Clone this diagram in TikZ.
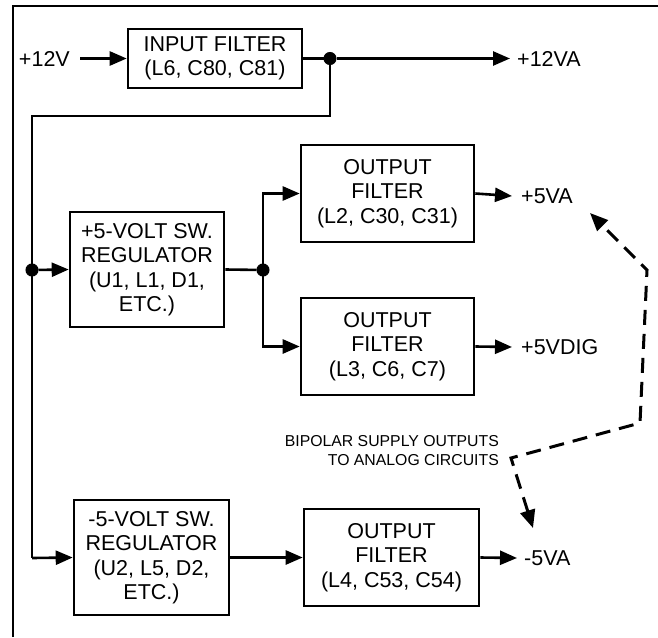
\documentclass[tikz,border=0pt]{standalone}
\usepackage{fontspec}
\setmainfont{Liberation Sans}
\usetikzlibrary{arrows.meta}
\begin{document}
\begin{tikzpicture}[x=1pt,y=-1pt,
  every node/.style={font=\fontsize{21.5}{24.5}\selectfont},
  blk/.style={draw,line width=2.6pt,align=center,inner sep=0pt},
  lbl/.style={inner sep=0pt},
  wire/.style={line width=2.6pt},
  arr/.style={line width=2.6pt,-{Triangle[length=17pt,width=14pt]}},
  junction/.style={circle,fill,draw,line width=1pt,inner sep=0pt,minimum size=12pt},
  dash arr/.style={line width=3pt,dash pattern=on 15pt off 9pt,{Triangle[length=18pt,width=15pt]}-{Triangle[length=18pt,width=15pt]}},
  small/.style={font=\fontsize{15.8}{19}\selectfont,align=right,inner sep=0pt}]
\useasboundingbox (0,0) rectangle (658,637);
% frame (top and left only)
\draw[line width=2.6pt] (13,637) -- (13,6) -- (658,6);

% blocks
\node[blk,minimum width=174pt,minimum height=59pt] (inf) at (215,58.5) {INPUT FILTER\\(L6, C80, C81)};
\node[blk,minimum width=154pt,minimum height=115pt] (reg5) at (147,269.5) {+5-VOLT SW.\\REGULATOR\\(U1, L1, D1,\\ETC.)};
\node[blk,minimum width=173pt,minimum height=97pt] (of1) at (387.5,193.5) {OUTPUT\\FILTER\\(L2, C30, C31)};
\node[blk,minimum width=173pt,minimum height=97pt] (of2) at (387.5,346.5) {OUTPUT\\FILTER\\(L3, C6, C7)};
\node[blk,minimum width=155pt,minimum height=115pt] (regm) at (151.5,557.5) {-5-VOLT SW.\\REGULATOR\\(U2, L5, D2,\\ETC.)};
\node[blk,minimum width=175pt,minimum height=97pt] (of3) at (391.5,557.5) {OUTPUT\\FILTER\\(L4, C53, C54)};

% labels
\node[lbl,anchor=east] (in12) at (70,58.5) {+12V};
\node[lbl,anchor=west] (o12) at (517,58.5) {+12VA};
\node[lbl,anchor=west] (o5a) at (521,196) {+5VA};
\node[lbl,anchor=west] (o5d) at (521,347) {+5VDIG};
\node[lbl,anchor=west] (om5) at (524,558) {-5VA};
\node[small,anchor=east] (bip) at (499,451) {BIPOLAR SUPPLY OUTPUTS\\TO ANALOG CIRCUITS};

% junctions
\node[junction] (j1) at (330,58.5) {};
\node[junction] (j2) at (32,270) {};
\node[junction] (j3) at (263,270) {};
\coordinate (c1) at (330,116);
\coordinate (c2) at (32,116);
\coordinate (c3) at (32,558);

% wires
\draw[arr] (80,58.5) -- (inf.west);
\draw[wire] (inf.east) -- (j1);
\draw[arr] (j1) -- (510,58.5);
\draw[wire] (j1.center) -- (c1) -- (c2) -- (c3);
\draw[arr] (c3) -- (regm.west);
\draw[arr] (j2) -- (reg5.west);
\draw[wire] (reg5.east) -- (j3);
\draw[arr] (j3.center) |- (of1.west);
\draw[arr] (j3.center) |- (of2.west);
\draw[arr] (regm.east) -- (of3.west);
\draw[arr] (of1.east) -- (512,196);
\draw[arr] (of2.east) -- (512,347);
\draw[arr] (of3.east) -- (517,558);

% dashed callout
\coordinate (t1) at (590,213);
\coordinate (t2) at (533,528);
\coordinate (d0) at (511,458);
\coordinate (d1) at (640,423);
\coordinate (d2) at (647,270);
\draw[dash arr] (t2) -- (d0) -- (d1) -- (d2) -- (t1);
\end{tikzpicture}
\end{document}
